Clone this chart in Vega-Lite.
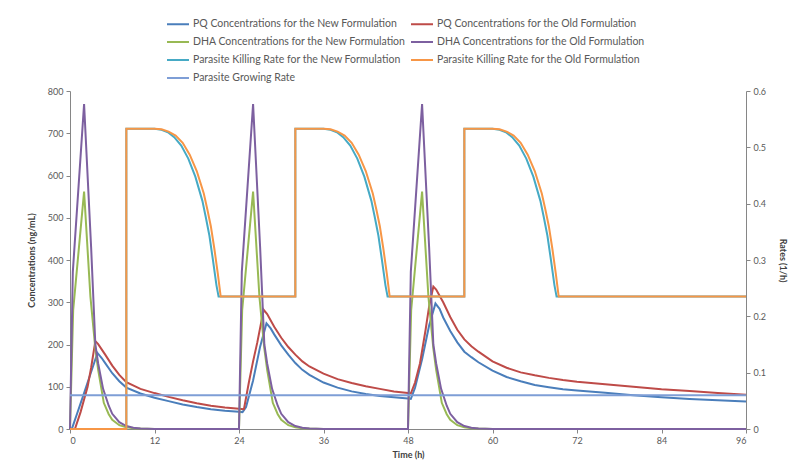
{
  "$schema": "https://vega.github.io/schema/vega-lite/v6.json",
  "width": 676,
  "height": 338,
  "autosize": "none",
  "padding": {"left": 70, "top": 91, "right": 48, "bottom": 42},
  "background": "white",
  "config": {
    "view": {"stroke": null},
    "font": "Lato",
    "axis": {
      "grid": false,
      "domainColor": "#868686",
      "tickColor": "#868686",
      "tickSize": 4,
      "labelFontSize": 9,
      "labelColor": "#595959",
      "labelPadding": 3,
      "titleFontSize": 9,
      "titleFontWeight": "bold",
      "titleColor": "#404040"
    },
    "legend": {
      "orient": "none",
      "legendX": 96,
      "legendY": -79,
      "columns": 2,
      "direction": "horizontal",
      "symbolType": "stroke",
      "symbolSize": 484,
      "symbolStrokeWidth": 2,
      "labelFontSize": 10.5,
      "labelColor": "#595959",
      "labelLimit": 400,
      "labelOffset": 3,
      "rowPadding": -1,
      "columnPadding": 1
    }
  },
  "datasets": {
    "pqNew": [
      {"t":0,"v":0},{"t":0.3,"v":2},{"t":1,"v":36},{"t":2,"v":85},{"t":3,"v":135},{"t":3.9,"v":180},{"t":4.5,"v":168},{"t":5,"v":156},{"t":6,"v":132},{"t":7,"v":113},{"t":8,"v":98},{"t":10,"v":84},{"t":12,"v":74},{"t":14,"v":66},{"t":16,"v":58},{"t":18,"v":52},{"t":20,"v":47},{"t":22,"v":43},{"t":24,"v":41},
      {"t":24.5,"v":40},{"t":25,"v":52},{"t":26,"v":115},{"t":27,"v":195},{"t":27.9,"v":250},{"t":28.5,"v":238},{"t":29,"v":224},{"t":30,"v":198},{"t":31,"v":176},{"t":32,"v":156},{"t":33,"v":140},{"t":34,"v":128},{"t":36,"v":110},{"t":38,"v":98},{"t":40,"v":89},{"t":42,"v":83},{"t":44,"v":78},{"t":46,"v":75},{"t":48,"v":72},
      {"t":48.4,"v":71},{"t":49,"v":98},{"t":50,"v":165},{"t":51,"v":245},{"t":51.9,"v":297},{"t":52.5,"v":284},{"t":53,"v":264},{"t":54,"v":232},{"t":55,"v":205},{"t":56,"v":183},{"t":57,"v":170},{"t":58,"v":158},{"t":60,"v":138},{"t":62,"v":123},{"t":64,"v":113},{"t":66,"v":104},{"t":68,"v":99},{"t":70,"v":94},{"t":72,"v":91},{"t":76,"v":86},{"t":80,"v":80},{"t":84,"v":75},{"t":88,"v":71},{"t":92,"v":68},{"t":96,"v":65}
    ],
    "pqOld": [
      {"t":0,"v":0},{"t":0.7,"v":0},{"t":1.5,"v":40},{"t":2.5,"v":100},{"t":3,"v":145},{"t":3.6,"v":208},{"t":4,"v":201},{"t":5,"v":176},{"t":6,"v":150},{"t":7,"v":128},{"t":8,"v":111},{"t":10,"v":95},{"t":12,"v":85},{"t":14,"v":76},{"t":16,"v":68},{"t":18,"v":61},{"t":20,"v":55},{"t":22,"v":51},{"t":24,"v":48},
      {"t":24.7,"v":47},{"t":25.4,"v":110},{"t":26,"v":160},{"t":26.6,"v":205},{"t":27.5,"v":282},{"t":28,"v":272},{"t":29,"v":242},{"t":30,"v":216},{"t":31,"v":194},{"t":32,"v":176},{"t":33,"v":160},{"t":34,"v":148},{"t":36,"v":131},{"t":38,"v":118},{"t":40,"v":109},{"t":42,"v":101},{"t":44,"v":95},{"t":46,"v":89},{"t":48,"v":85},
      {"t":48.4,"v":84},{"t":49,"v":110},{"t":49.7,"v":155},{"t":50.5,"v":235},{"t":51,"v":290},{"t":51.6,"v":337},{"t":52,"v":330},{"t":53,"v":300},{"t":54,"v":265},{"t":55,"v":235},{"t":56,"v":212},{"t":57,"v":196},{"t":58,"v":183},{"t":60,"v":160},{"t":62,"v":145},{"t":64,"v":134},{"t":66,"v":127},{"t":68,"v":121},{"t":70,"v":116},{"t":72,"v":112},{"t":76,"v":106},{"t":80,"v":100},{"t":84,"v":94},{"t":88,"v":90},{"t":92,"v":85},{"t":96,"v":81}
    ],
    "dhaNew": [
      {"t":0,"v":0},{"t":0.45,"v":281},{"t":2,"v":562},{"t":2.9,"v":313},{"t":3.6,"v":190},{"t":4,"v":140},{"t":4.8,"v":62},{"t":5.5,"v":35},{"t":6,"v":22},{"t":7,"v":9},{"t":8,"v":4},{"t":9,"v":2},{"t":10,"v":1},{"t":12,"v":0},{"t":24,"v":0},
      {"t":24.45,"v":281},{"t":26,"v":562},{"t":26.9,"v":313},{"t":27.6,"v":190},{"t":28,"v":140},{"t":28.8,"v":62},{"t":29.5,"v":35},{"t":30,"v":22},{"t":31,"v":9},{"t":32,"v":4},{"t":33,"v":2},{"t":34,"v":1},{"t":36,"v":0},{"t":48,"v":0},
      {"t":48.45,"v":281},{"t":50,"v":562},{"t":50.9,"v":313},{"t":51.6,"v":190},{"t":52,"v":140},{"t":52.8,"v":62},{"t":53.5,"v":35},{"t":54,"v":22},{"t":55,"v":9},{"t":56,"v":4},{"t":57,"v":2},{"t":58,"v":1},{"t":60,"v":0},{"t":96,"v":0}
    ],
    "dhaOld": [
      {"t":0,"v":0},{"t":0.4,"v":372},{"t":2,"v":769},{"t":3,"v":430},{"t":3.6,"v":200},{"t":4,"v":155},{"t":4.7,"v":95},{"t":5.5,"v":55},{"t":6,"v":36},{"t":7,"v":16},{"t":8,"v":7},{"t":9,"v":3},{"t":10,"v":1},{"t":12,"v":0},{"t":24,"v":0},
      {"t":24.4,"v":372},{"t":26,"v":769},{"t":27,"v":430},{"t":27.6,"v":200},{"t":28,"v":155},{"t":28.7,"v":95},{"t":29.5,"v":55},{"t":30,"v":36},{"t":31,"v":16},{"t":32,"v":7},{"t":33,"v":3},{"t":34,"v":1},{"t":36,"v":0},{"t":48,"v":0},
      {"t":48.4,"v":372},{"t":50,"v":769},{"t":51,"v":430},{"t":51.6,"v":200},{"t":52,"v":155},{"t":52.7,"v":95},{"t":53.5,"v":55},{"t":54,"v":36},{"t":55,"v":16},{"t":56,"v":7},{"t":57,"v":3},{"t":58,"v":1},{"t":60,"v":0},{"t":96,"v":0}
    ],
    "killNew": [
      {"t":0,"v":0},{"t":8,"v":0},{"t":8,"v":0.533},{"t":12,"v":0.533},{"t":13,"v":0.531},{"t":14,"v":0.526},{"t":14.8,"v":0.518},{"t":15.8,"v":0.503},{"t":16.8,"v":0.48},{"t":17.8,"v":0.448},{"t":18.8,"v":0.405},{"t":19.3,"v":0.375},{"t":19.8,"v":0.343},{"t":20.3,"v":0.3},{"t":20.8,"v":0.255},{"t":21.1,"v":0.235},{"t":32,"v":0.235},
      {"t":32,"v":0.533},{"t":36,"v":0.533},{"t":37,"v":0.531},{"t":38,"v":0.526},{"t":38.8,"v":0.518},{"t":39.8,"v":0.503},{"t":40.8,"v":0.48},{"t":41.8,"v":0.448},{"t":42.8,"v":0.405},{"t":43.3,"v":0.375},{"t":43.8,"v":0.343},{"t":44.3,"v":0.3},{"t":44.8,"v":0.255},{"t":45.1,"v":0.235},{"t":56,"v":0.235},
      {"t":56,"v":0.533},{"t":60,"v":0.533},{"t":61,"v":0.531},{"t":62,"v":0.526},{"t":62.8,"v":0.518},{"t":63.8,"v":0.503},{"t":64.8,"v":0.48},{"t":65.8,"v":0.448},{"t":66.8,"v":0.405},{"t":67.3,"v":0.375},{"t":67.8,"v":0.343},{"t":68.3,"v":0.3},{"t":68.8,"v":0.255},{"t":69.1,"v":0.235},{"t":96,"v":0.235}
    ],
    "killOld": [
      {"t":0,"v":0},{"t":8,"v":0},{"t":8,"v":0.533},{"t":12,"v":0.533},{"t":13,"v":0.532},{"t":14,"v":0.528},{"t":15,"v":0.521},{"t":16,"v":0.508},{"t":17,"v":0.487},{"t":18,"v":0.458},{"t":19,"v":0.418},{"t":19.5,"v":0.39},{"t":20,"v":0.36},{"t":20.5,"v":0.32},{"t":21,"v":0.275},{"t":21.4,"v":0.235},{"t":32,"v":0.235},
      {"t":32,"v":0.533},{"t":36,"v":0.533},{"t":37,"v":0.532},{"t":38,"v":0.528},{"t":39,"v":0.521},{"t":40,"v":0.508},{"t":41,"v":0.487},{"t":42,"v":0.458},{"t":43,"v":0.418},{"t":43.5,"v":0.39},{"t":44,"v":0.36},{"t":44.5,"v":0.32},{"t":45,"v":0.275},{"t":45.4,"v":0.235},{"t":56,"v":0.235},
      {"t":56,"v":0.533},{"t":60,"v":0.533},{"t":61,"v":0.532},{"t":62,"v":0.528},{"t":63,"v":0.521},{"t":64,"v":0.508},{"t":65,"v":0.487},{"t":66,"v":0.458},{"t":67,"v":0.418},{"t":67.5,"v":0.39},{"t":68,"v":0.36},{"t":68.5,"v":0.32},{"t":69,"v":0.275},{"t":69.4,"v":0.235},{"t":96,"v":0.235}
    ],
    "growing": [
      {"t":0,"v":0.06},{"t":96,"v":0.06}
    ]
  },
  "resolve": {"scale": {"y": "independent"}},
  "layer": [
    {
      "encoding": {
        "x": {"field": "t", "type": "quantitative", "scale": {"domain": [0, 96], "nice": false}, "axis": {"values": [0,12,24,36,48,60,72,84,96], "title": "Time (h)", "titlePadding": 5}},
        "y": {"field": "v", "type": "quantitative", "scale": {"domain": [0, 800], "nice": false}, "axis": {"orient": "left", "values": [0,100,200,300,400,500,600,700,800], "title": "Concentrations (ng/mL)", "titlePadding": 11}},
        "order": {"value": null}
      },
      "layer": [
        {"data": {"name": "pqNew"}, "mark": {"type": "line", "strokeWidth": 2}, "encoding": {"color": {"datum": "PQ Concentrations for the New Formulation", "scale": {"domain": ["PQ Concentrations for the New Formulation","PQ Concentrations for the Old Formulation","DHA Concentrations for the New Formulation","DHA Concentrations for the Old Formulation","Parasite Killing Rate for the New Formulation","Parasite Killing Rate for the Old Formulation","Parasite Growing Rate"], "range": ["#4A7EBB","#BE4B48","#98B954","#7D60A0","#46AAC5","#F79646","#7E9ED6"]}, "legend": {"title": null}}}},
        {"data": {"name": "pqOld"}, "mark": {"type": "line", "strokeWidth": 2}, "encoding": {"color": {"datum": "PQ Concentrations for the Old Formulation"}}},
        {"data": {"name": "dhaNew"}, "mark": {"type": "line", "strokeWidth": 2}, "encoding": {"color": {"datum": "DHA Concentrations for the New Formulation"}}},
        {"data": {"name": "dhaOld"}, "mark": {"type": "line", "strokeWidth": 2}, "encoding": {"color": {"datum": "DHA Concentrations for the Old Formulation"}}}
      ]
    },
    {
      "encoding": {
        "x": {"field": "t", "type": "quantitative"},
        "y": {"field": "v", "type": "quantitative", "scale": {"domain": [0, 0.6], "nice": false}, "axis": {"orient": "right", "values": [0,0.1,0.2,0.3,0.4,0.5,0.6], "format": "~g", "title": "Rates (1/h)", "titlePadding": 12}},
        "order": {"value": null}
      },
      "layer": [
        {"data": {"name": "killNew"}, "mark": {"type": "line", "strokeWidth": 2}, "encoding": {"color": {"datum": "Parasite Killing Rate for the New Formulation"}}},
        {"data": {"name": "killOld"}, "mark": {"type": "line", "strokeWidth": 2}, "encoding": {"color": {"datum": "Parasite Killing Rate for the Old Formulation"}}},
        {"data": {"name": "growing"}, "mark": {"type": "line", "strokeWidth": 2}, "encoding": {"color": {"datum": "Parasite Growing Rate"}}}
      ]
    }
  ]
}
